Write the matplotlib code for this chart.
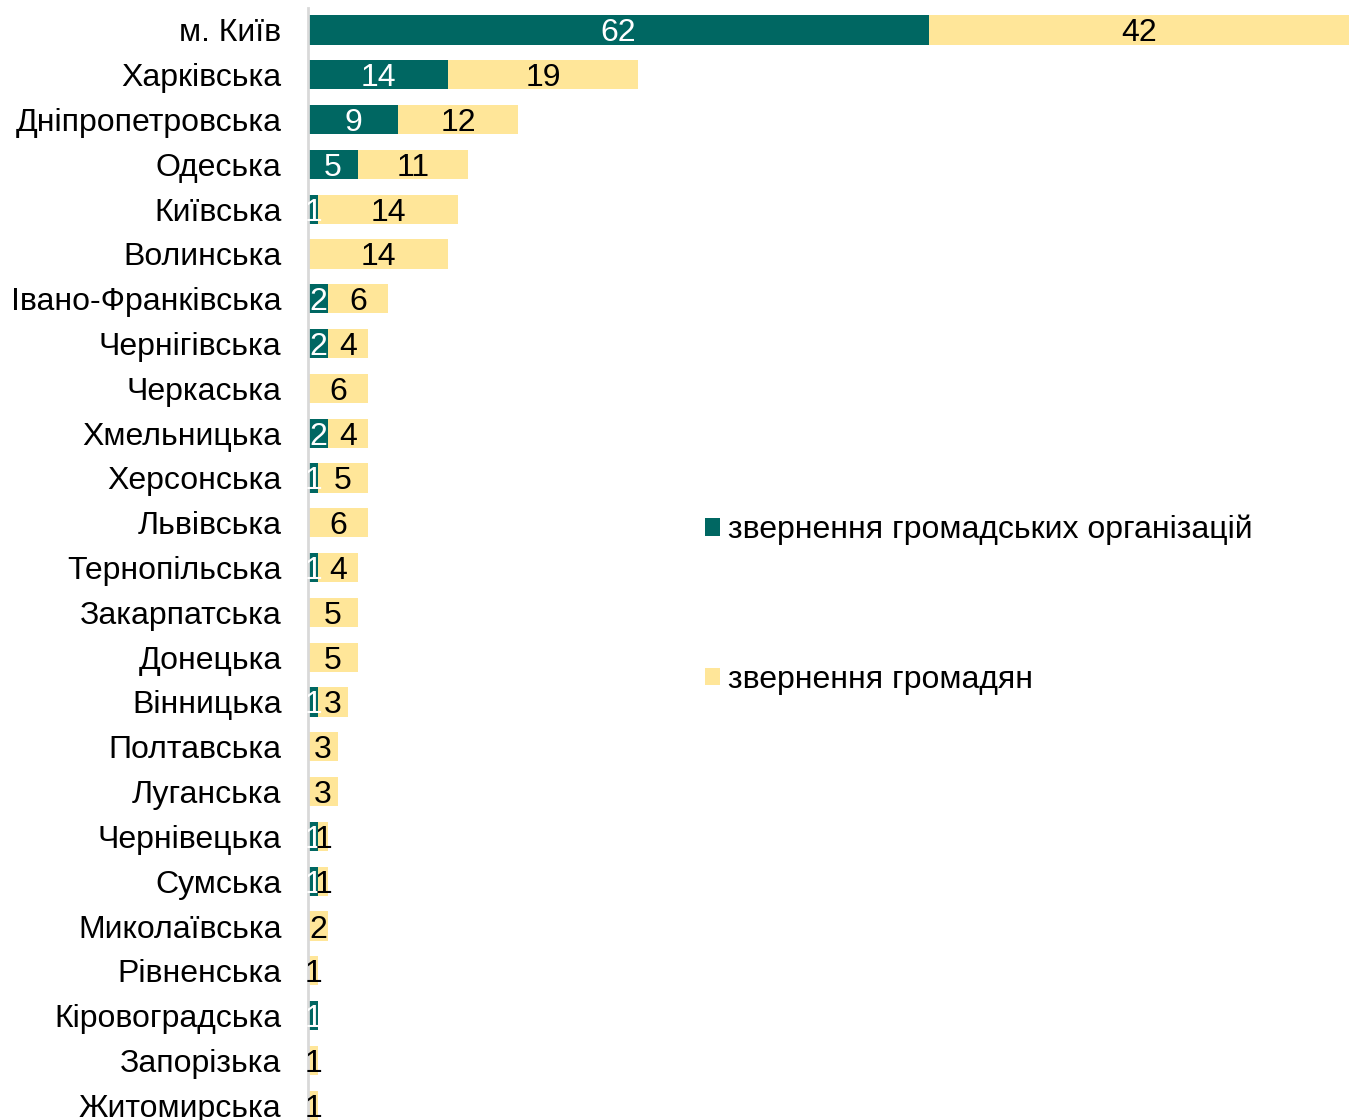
import matplotlib
matplotlib.use("Agg")
import matplotlib.pyplot as plt
from matplotlib.patches import Patch

plt.rcParams['font.family'] = ['Liberation Sans', 'DejaVu Sans']

regions = ["м. Київ", "Харківська", "Дніпропетровська", "Одеська", "Київська",
           "Волинська", "Івано-Франківська", "Чернігівська", "Черкаська", "Хмельницька",
           "Херсонська", "Львівська", "Тернопільська", "Закарпатська", "Донецька",
           "Вінницька", "Полтавська", "Луганська", "Чернівецька", "Сумська",
           "Миколаївська", "Рівненська", "Кіровоградська", "Запорізька", "Житомирська"]
orgs = [62, 14, 9, 5, 1, 0, 2, 2, 0, 2, 1, 0, 1, 0, 0, 1, 0, 0, 1, 1, 0, 0, 1, 0, 0]
citizens = [42, 19, 12, 11, 14, 14, 6, 4, 6, 4, 5, 6, 4, 5, 5, 3, 3, 3, 1, 1, 2, 1, 0, 1, 1]
series_names = ["звернення громадських організацій", "звернення громадян"]

TEAL = "#006762"
YELLOW = "#FFE699"

W, H = 1357, 1120
fig = plt.figure(figsize=(W / 100, H / 100), dpi=100)
ax = fig.add_axes([308 / W, 0, 1041 / W, 1112 / H])

y = list(range(len(regions)))
h = 0.65
ax.barh(y, orgs, height=h, color=TEAL, edgecolor='none')
ax.barh(y, citizens, left=orgs, height=h, color=YELLOW, edgecolor='none')

fs = 23
for i in y:
    if orgs[i] > 0:
        ax.text(orgs[i] / 2, i, str(orgs[i]), ha='center', va='center_baseline',
                color='white', fontsize=fs)
    if citizens[i] > 0:
        ax.text(orgs[i] + citizens[i] / 2, i, str(citizens[i]), ha='center',
                va='center_baseline', color='black', fontsize=fs)

ax.set_xlim(0, 104)
ax.set_ylim(24.33, -0.49)
ax.set_yticks(y)
ax.set_yticklabels(regions, fontsize=fs)
ax.tick_params(axis='y', length=0, pad=19)
ax.set_xticks([])
for s in ['top', 'right', 'bottom']:
    ax.spines[s].set_visible(False)
ax.spines['left'].set_color('#D9D9D9')
ax.spines['left'].set_linewidth(2)

handles = [Patch(facecolor=TEAL, edgecolor='none'),
           Patch(facecolor=YELLOW, edgecolor='none')]
fig.legend(handles, series_names, loc='upper left',
           bbox_to_anchor=(676 / W, 1 - 486 / H), frameon=False,
           fontsize=fs, handlelength=0.47, handleheight=0.47,
           handletextpad=0.25, labelspacing=3.75)

fig.savefig("out.png", dpi=100)
